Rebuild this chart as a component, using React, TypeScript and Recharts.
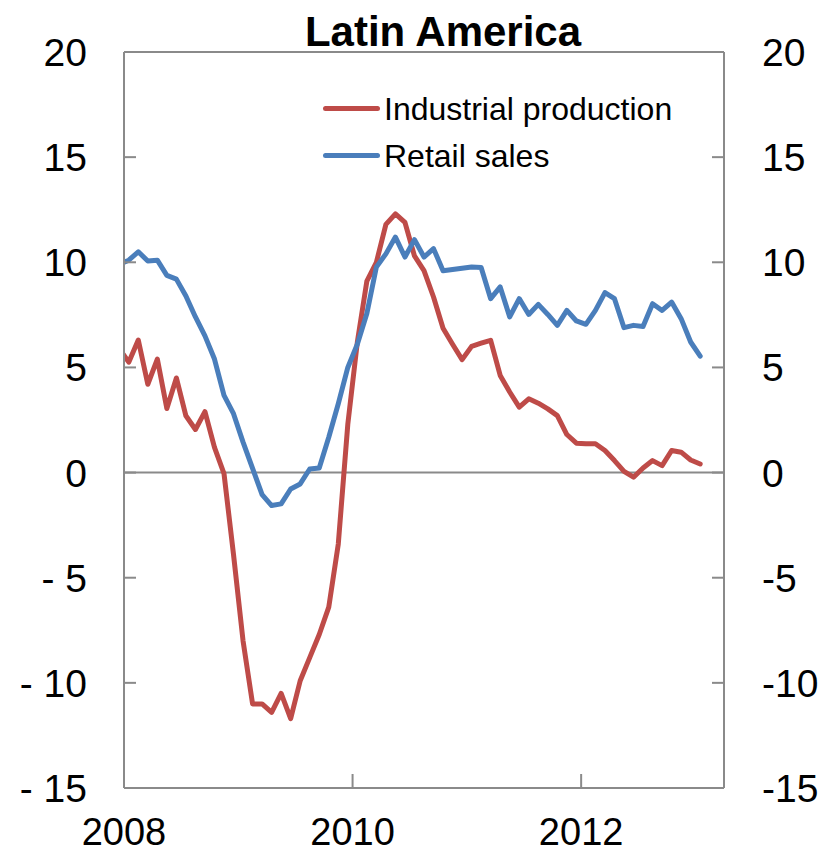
import React from 'react';
import { LineChart, Line, XAxis, YAxis, ReferenceLine, Legend } from 'recharts';

const FONT = '"Liberation Sans", Arial, Helvetica, sans-serif';
const RED = '#BE4B48';
const BLUE = '#4A7EBB';
const AXIS = '#8A8A8A';

// Monthly observations, Dec 2007 .. Jan 2013 (year-ended % change)
const industrialProduction = [
  5.9,
  5.25, 6.3, 4.2, 5.4, 3.05, 4.5, 2.7, 2.05, 2.9, 1.2, -0.05, -3.9,
  -8.0, -11.0, -11.0, -11.4, -10.5, -11.7, -9.9, -8.8, -7.7, -6.4, -3.4, 2.3,
  6.2, 9.1, 10.0, 11.8, 12.3, 11.9, 10.3, 9.6, 8.35, 6.86, 6.1, 5.37,
  6.0, 6.15, 6.29, 4.62, 3.83, 3.11, 3.51, 3.3, 3.03, 2.71, 1.81, 1.4,
  1.37, 1.37, 1.05, 0.57, 0.06, -0.22, 0.22, 0.57, 0.33, 1.05, 0.97, 0.6,
  0.41,
];
const retailSales = [
  9.9,
  10.1, 10.5, 10.06, 10.1, 9.38, 9.2, 8.4, 7.4, 6.5, 5.4, 3.67, 2.8,
  1.45, 0.2, -1.05, -1.57, -1.49, -0.78, -0.54, 0.17, 0.22, 1.68, 3.27, 5.0,
  6.1, 7.56, 9.78, 10.4, 11.2, 10.25, 11.08, 10.25, 10.65, 9.6, 9.66, 9.72,
  9.78, 9.75, 8.27, 8.83, 7.4, 8.27, 7.52, 8.0, 7.52, 7.0, 7.71, 7.21,
  7.05, 7.71, 8.56, 8.27, 6.89, 7.0, 6.95, 8.03, 7.71, 8.11, 7.32, 6.21,
  5.54,
];
const seriesNames = ['Industrial production', 'Retail sales'];
const seriesColors = [RED, BLUE];
const yearTicks = [0, 24, 48]; // months since Jan 2008
const yearLabels = ['2008', '2010', '2012'];
const yTicks = [-15, -10, -5, 0, 5, 10, 15, 20];
const leftTickLabels = ['- 15', '- 10', '- 5', '0', '5', '10', '15', '20'];
const rightTickLabels = ['-15', '-10', '-5', '0', '5', '10', '15', '20'];
const titleText = 'Latin America';

// x position: mid-month, months counted from Jan 2008 (first entry is Dec 2007)
const data = industrialProduction.map((ip, i) => ({ t: i - 0.5, ip, rs: retailSales[i] }));

const LeftTick = (props: any) => {
  const { x, y, payload } = props;
  const idx = yTicks.indexOf(payload.value);
  return (
    <g>
      <line x1={x} x2={x + 12} y1={y} y2={y} stroke={AXIS} strokeWidth={2} />
      <text x={x - 37} y={y} dy={14} textAnchor="end" fontSize={39} fontFamily={FONT} fill="#000">
        {leftTickLabels[idx]}
      </text>
    </g>
  );
};

const RightTick = (props: any) => {
  const { x, y, payload } = props;
  const idx = yTicks.indexOf(payload.value);
  return (
    <g>
      <line x1={x} x2={x - 12} y1={y} y2={y} stroke={AXIS} strokeWidth={2} />
      <text x={x + 38} y={y} dy={14} textAnchor="start" fontSize={39} fontFamily={FONT} fill="#000">
        {rightTickLabels[idx]}
      </text>
    </g>
  );
};

const BottomTick = (props: any) => {
  const { x, y, payload } = props;
  const idx = yearTicks.indexOf(payload.value);
  return (
    <g>
      {payload.value !== 0 && <line x1={x} x2={x} y1={y} y2={y - 14} stroke={AXIS} strokeWidth={2} />}
      <text x={x} y={y + 57} textAnchor="middle" fontSize={38} fontFamily={FONT} fill="#000">
        {yearLabels[idx]}
      </text>
    </g>
  );
};

const renderLegend = () => (
  <div style={{ fontFamily: FONT }}>
    {seriesNames.map((name, i) => (
      <div key={name} style={{ display: 'flex', alignItems: 'center', height: 47 }}>
        <div style={{ width: 57, height: 5, borderRadius: 2.5, background: seriesColors[i], marginRight: 4 }} />
        <span style={{ fontSize: 32, lineHeight: '32px', color: '#000', whiteSpace: 'nowrap' }}>{name}</span>
      </div>
    ))}
  </div>
);

export default function App() {
  return (
    <div style={{ position: 'relative', width: 818, height: 846 }}>
      <LineChart width={818} height={846} data={data} margin={{ top: 44, right: 0, bottom: 0, left: 0 }}>
        <XAxis
          dataKey="t"
          type="number"
          domain={[0, 63]}
          allowDataOverflow
          ticks={yearTicks}
          interval={0}
          height={66}
          tickSize={0}
          tickMargin={0}
          tickLine={false}
          axisLine={{ stroke: AXIS, strokeWidth: 2 }}
          tick={<BottomTick />}
        />
        <YAxis
          yAxisId="left"
          orientation="left"
          type="number"
          domain={[-15, 20]}
          allowDataOverflow
          ticks={yTicks}
          interval={0}
          width={116}
          tickSize={0}
          tickMargin={0}
          tickLine={false}
          axisLine={{ stroke: AXIS, strokeWidth: 2 }}
          tick={<LeftTick />}
        />
        <YAxis
          yAxisId="right"
          orientation="right"
          type="number"
          domain={[-15, 20]}
          allowDataOverflow
          ticks={yTicks}
          interval={0}
          width={102}
          tickSize={0}
          tickMargin={0}
          tickLine={false}
          axisLine={{ stroke: AXIS, strokeWidth: 2 }}
          tick={<RightTick />}
        />
        <ReferenceLine yAxisId="left" y={20} stroke={AXIS} strokeWidth={2} />
        <ReferenceLine yAxisId="left" y={0} stroke={AXIS} strokeWidth={2} />
        <Legend
          layout="vertical"
          align="center"
          verticalAlign="middle"
          wrapperStyle={{ left: 315, top: 77, width: 420, height: 94 }}
          content={renderLegend}
        />
        <Line
          yAxisId="left"
          type="linear"
          dataKey="ip"
          name={seriesNames[0]}
          stroke={RED}
          strokeWidth={5}
          strokeLinejoin="round"
          strokeLinecap="round"
          dot={false}
          activeDot={false}
          isAnimationActive={false}
        />
        <Line
          yAxisId="left"
          type="linear"
          dataKey="rs"
          name={seriesNames[1]}
          stroke={BLUE}
          strokeWidth={5}
          strokeLinejoin="round"
          strokeLinecap="round"
          dot={false}
          activeDot={false}
          isAnimationActive={false}
        />
      </LineChart>
      <div
        style={{
          position: 'absolute',
          left: 235,
          top: 3,
          width: 400,
          textAlign: 'center',
          fontFamily: FONT,
          fontWeight: 'bold',
          fontSize: 42,
          lineHeight: '41px',
          color: '#000',
        }}
      >
        {titleText}
      </div>
    </div>
  );
}
